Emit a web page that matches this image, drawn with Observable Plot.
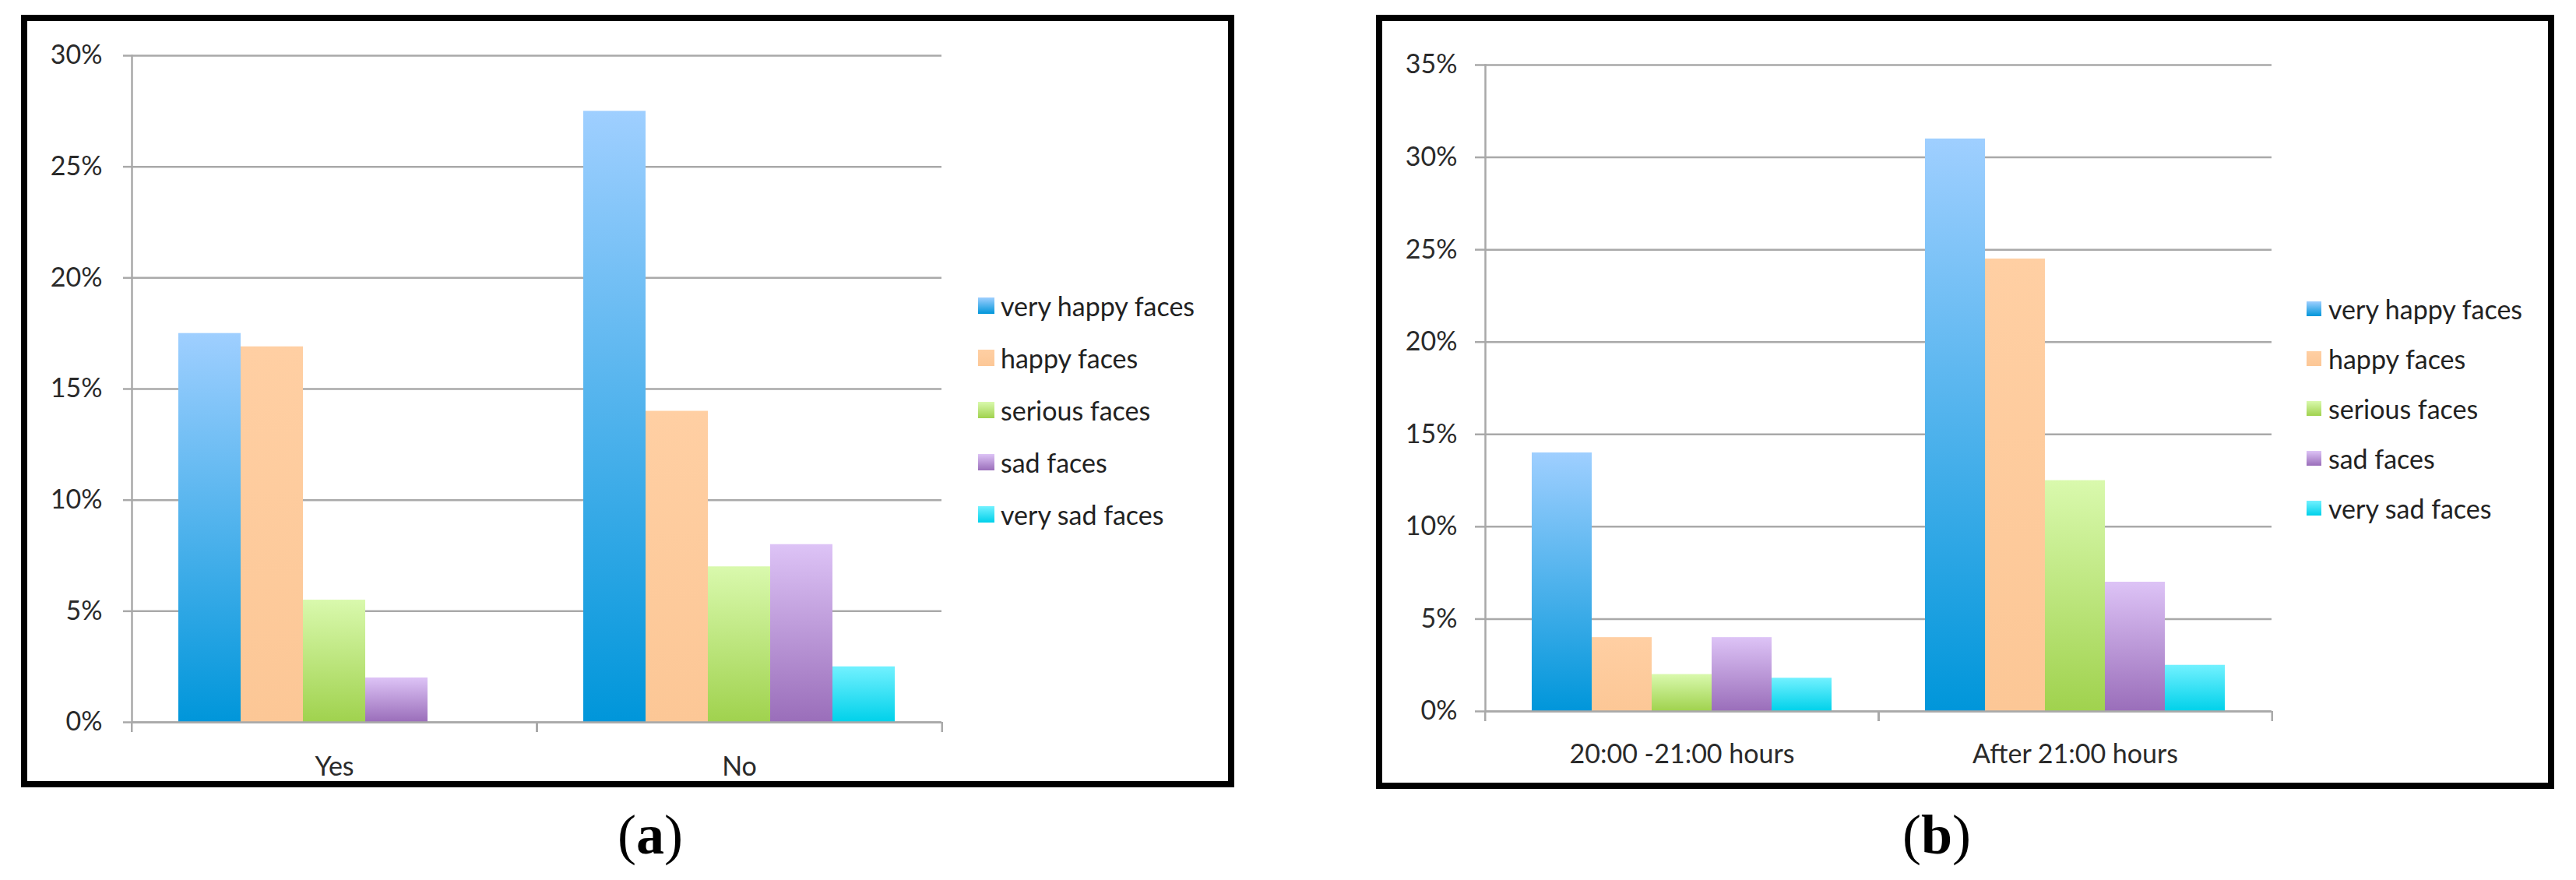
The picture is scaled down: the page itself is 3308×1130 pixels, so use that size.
<!DOCTYPE html>
<html>
<head>
<meta charset="utf-8">
<script src="https://cdn.jsdelivr.net/npm/d3@7"></script>
<script src="https://cdn.jsdelivr.net/npm/@observablehq/plot@0.6"></script>
<style>
  html, body { margin: 0; padding: 0; background: #fff; }
  body { width: 3308px; height: 1130px; position: relative; overflow: hidden; font-family: Lato, "Open Sans", sans-serif; }
  .panel { position: absolute; border: 8px solid #000; box-sizing: border-box; }
  .chart { position: absolute; }
  .legend { position: absolute; color: #222; }
  .legend .item { display: flex; align-items: center; white-space: nowrap; }
  .legend .sw { flex: none; }
  .cap { position: absolute; font-family: "Liberation Serif", "Times New Roman", serif; font-size: 72px; color: #000; line-height: 1; }
  .cap b { font-weight: bold; }
</style>
</head>
<body>
<svg width="0" height="0" style="position:absolute">
  <defs id="gdefs"></defs>
</svg>
<div class="panel" style="left:27px;top:19px;width:1558px;height:992px"></div>
<div class="panel" style="left:1767px;top:19px;width:1513px;height:994px"></div>
<div id="chartA" class="chart" style="left:35px;top:26px"></div>
<div id="chartB" class="chart" style="left:1774px;top:26px"></div>
<div id="legendA" class="legend"></div>
<div id="legendB" class="legend"></div>
<div class="cap" style="left:793px;top:1036px">(<b>a</b>)</div>
<div class="cap" style="left:2443px;top:1036px">(<b>b</b>)</div>
<script>
// ---- data ----
const seriesNames = ["very happy faces", "happy faces", "serious faces", "sad faces", "very sad faces"];

const categoriesA = ["Yes", "No"];
const yesValues = [17.5, 16.9, 5.5, 2.0, 0];
const noValues = [27.5, 14.0, 7.0, 8.0, 2.5];
const ticksA = [0, 5, 10, 15, 20, 25, 30];

const categoriesB = ["20:00 -21:00 hours", "After 21:00 hours"];
const earlyValues = [14.0, 4.0, 2.0, 4.0, 1.8];
const lateValues = [31.0, 24.5, 12.5, 7.0, 2.5];
const ticksB = [0, 5, 10, 15, 20, 25, 30, 35];

// ---- styles ----
const gradTop = ["#9fcfff", "#ffcfa3", "#d9f9ad", "#ddc3f6", "#72f1ff"];
const gradBottom = ["#0096da", "#fcc796", "#a0d24e", "#9a6eba", "#00d1ea"];
const gridColor = "#a9a9a9";

// gradient defs
const defs = d3.select("#gdefs");
seriesNames.forEach((s, i) => {
  const g = defs.append("linearGradient").attr("id", "grad" + i)
    .attr("x1", 0).attr("y1", 0).attr("x2", 0).attr("y2", 1);
  g.append("stop").attr("offset", "0%").attr("stop-color", gradTop[i]);
  g.append("stop").attr("offset", "100%").attr("stop-color", gradBottom[i]);
});

function makeChart(cats, valueRows, ticks, o) {
  const data = cats.flatMap((c, i) => seriesNames.map((s, j) => ({cat: c, series: s, value: valueRows[i][j]})));
  const innerW = o.width - o.marginLeft - o.marginRight;
  const fw = innerW / cats.length;
  return Plot.plot({
    width: o.width,
    height: o.height,
    marginLeft: o.marginLeft,
    marginRight: o.marginRight,
    marginTop: o.marginTop,
    marginBottom: o.marginBottom,
    style: {fontFamily: "Lato, 'Open Sans', sans-serif", fontSize: o.fontSize + "px", color: "#2a2a2a", background: "transparent", overflow: "visible"},
    fx: {domain: cats, padding: 0, label: null},
    x: {domain: seriesNames, paddingInner: 0, paddingOuter: 0.75, axis: null},
    y: {domain: [0, d3.max(ticks)], label: null},
    color: {domain: seriesNames, range: seriesNames.map((_, i) => `url(#grad${i})`)},
    marks: [
      Plot.gridY(ticks, {stroke: gridColor, strokeOpacity: 1, strokeWidth: 2.5}),
      Plot.axisY(ticks, {tickSize: o.ytick, tickPadding: o.ypad, tickFormat: d => d + "%", stroke: gridColor, strokeWidth: 2.5, label: null, fontSize: o.fontSize}),
      Plot.barY(data, {fx: "cat", x: "series", y: "value", fill: "series"}),
      Plot.frame({anchor: "left", facetAnchor: "left", stroke: gridColor, strokeWidth: 2.5}),
      Plot.ruleY([0], {stroke: gridColor, strokeWidth: 2.5}),
      Plot.axisFx({anchor: "bottom", tickSize: 13, dx: fw / 2, tickFormat: () => "", stroke: gridColor, strokeWidth: 2.5, label: null}),
      Plot.axisFx({anchor: "bottom", tickSize: 13, dx: -fw / 2, tickFormat: () => "", stroke: gridColor, strokeWidth: 2.5, label: null}),
      Plot.axisFx({anchor: "bottom", tickSize: 0, tickPadding: o.xpad, label: null, fontSize: o.fontSize})
    ]
  });
}

document.getElementById("chartA").append(makeChart(categoriesA, [yesValues, noValues], ticksA, {
  width: 1184, height: 978, marginLeft: 133, marginRight: 10, marginTop: 45, marginBottom: 77,
  fontSize: 34, ytick: 11, ypad: 27, xpad: 44
}));
document.getElementById("chartB").append(makeChart(categoriesB, [earlyValues, lateValues], ticksB, {
  width: 1153, height: 980, marginLeft: 132, marginRight: 10, marginTop: 57, marginBottom: 93,
  fontSize: 34, ytick: 13, ypad: 23, xpad: 42
}));

function makeLegend(id, left, top, rowH, sw, gap, fontSize) {
  const el = d3.select("#" + id).style("left", left + "px").style("top", top + "px").style("font-size", fontSize + "px");
  seriesNames.forEach((s, i) => {
    const it = el.append("div").attr("class", "item").style("height", rowH + "px");
    it.append("div").attr("class", "sw")
      .style("width", sw + "px").style("height", sw + "px")
      .style("margin-right", gap + "px")
      .style("background", `linear-gradient(${gradTop[i]}, ${gradBottom[i]})`);
    it.append("span").text(s);
  });
}
makeLegend("legendA", 1256, 359, 67, 21, 8, 34);
makeLegend("legendB", 2962, 364, 64, 19, 9, 34);
</script>
</body>
</html>
